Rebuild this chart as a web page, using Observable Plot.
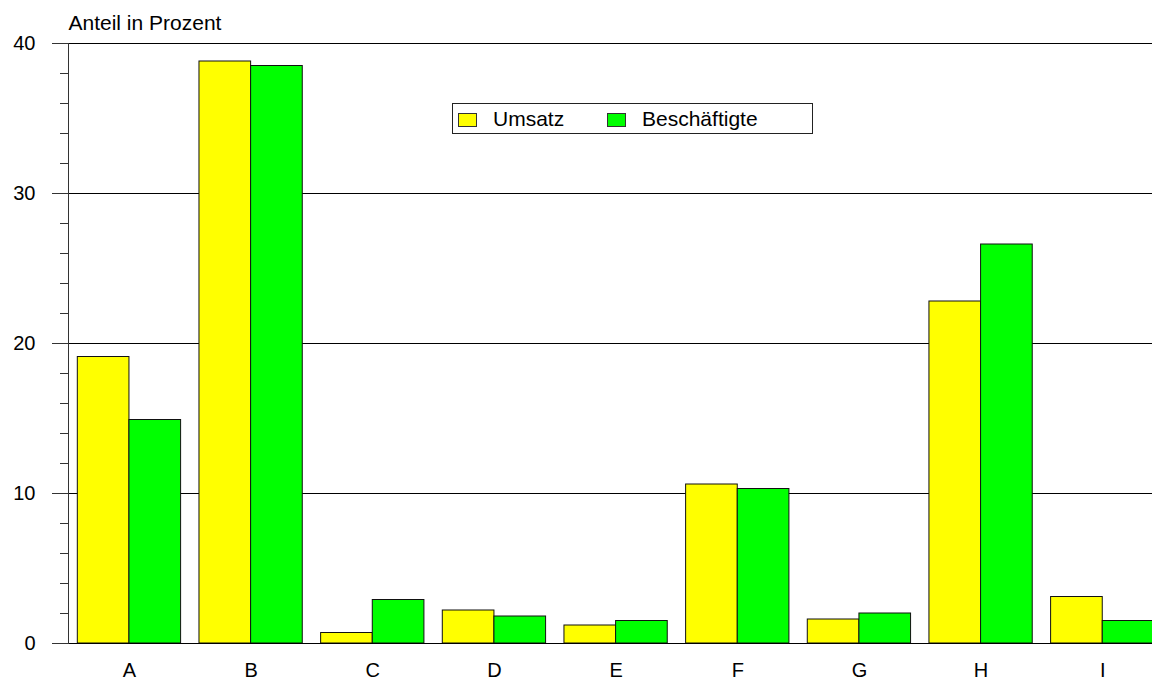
<!DOCTYPE html>
<html>
<head>
<meta charset="utf-8">
<script src="https://cdn.jsdelivr.net/npm/d3@7"></script>
<script src="https://cdn.jsdelivr.net/npm/@observablehq/plot@0.6"></script>
<style>
  html, body { margin: 0; padding: 0; background: white; overflow: hidden; width: 1152px; height: 681px; }
  #wrap { position: relative; width: 1152px; height: 681px; overflow: hidden; font-family: "Liberation Sans", Arial, sans-serif; }
  #legend { position: absolute; left: 452px; top: 103px; width: 361px; height: 31px; border: 1px solid #222; background: white; box-sizing: border-box; font-size: 21px; color: #000; }
  .item { position: absolute; top: 0; height: 29px; line-height: 29px; }
  .sw { position: absolute; top: 9px; width: 17px; height: 12px; border: 1px solid #333; }
  .lab { position: absolute; top: 0; white-space: nowrap; }
</style>
</head>
<body>
<div id="wrap">
  <div id="chart"></div>
  <div id="legend"></div>
</div>
<script>
const categories = ["A", "B", "C", "D", "E", "F", "G", "H", "I"];
const umsatz = [19.1, 38.8, 0.7, 2.2, 1.2, 10.6, 1.6, 22.8, 3.1];
const beschaeftigte = [14.9, 38.5, 2.9, 1.8, 1.5, 10.3, 2.0, 26.6, 1.5];
const seriesNames = ["Umsatz", "Beschäftigte"];
const seriesColors = ["#ffff00", "#00ff00"];
const majorTicks = [0, 10, 20, 30, 40];
const minorTicks = [2, 4, 6, 8, 12, 14, 16, 18, 22, 24, 26, 28, 32, 34, 36, 38];
const yTitle = "Anteil in Prozent";

const rows = categories.map((c, i) => ({cat: c, umsatz: umsatz[i], besch: beschaeftigte[i]}));

const marginLeft = 68, marginTop = 43, marginBottom = 38;
const width = 1152, height = 681;
const pIn = 0.151, pOut = 0.0765;
const xRange = [marginLeft, 1163.2];
const step = (xRange[1] - xRange[0]) / (categories.length - pIn + 2 * pOut);
const bw = step * (1 - pIn);

const chart = Plot.plot({
  width, height,
  marginLeft, marginTop, marginBottom, marginRight: 0,
  style: {fontFamily: "'Liberation Sans', Arial, sans-serif", fontSize: "20px", overflow: "hidden", color: "#000", background: "white"},
  x: {domain: categories, range: xRange, paddingInner: pIn, paddingOuter: pOut, round: false},
  y: {domain: [0, 40], range: [height - marginBottom, marginTop]},
  marks: [
    Plot.ruleY(majorTicks, {stroke: "#000", strokeWidth: 1}),
    Plot.barY(rows, {x: "cat", y: "umsatz", fill: seriesColors[0], stroke: "#111", strokeWidth: 1, insetRight: bw / 2}),
    Plot.barY(rows, {x: "cat", y: "besch", fill: seriesColors[1], stroke: "#111", strokeWidth: 1, insetLeft: bw / 2}),
    Plot.ruleY([0], {stroke: "#000", strokeWidth: 1}),
    Plot.frame({anchor: "left", stroke: "#333"}),
    Plot.axisY({ticks: majorTicks, tickSize: 16, tickPadding: 17, tickFormat: d => String(d), stroke: "#333", strokeOpacity: 1, fontSize: 20, label: null}),
    Plot.axisY({ticks: minorTicks, tickSize: 8, text: null, stroke: "#333", strokeOpacity: 1, label: null}),
    Plot.axisX({tickSize: 0, tickPadding: 19, fontSize: 20, label: null}),
    Plot.text([yTitle], {frameAnchor: "top-left", textAnchor: "start", lineAnchor: "bottom", dy: -14, fontSize: 21, fill: "#000"})
  ]
});
document.getElementById("chart").appendChild(chart);

const legend = document.getElementById("legend");
const swX = [5, 154], labX = [40, 189];
seriesNames.forEach((name, i) => {
  const sw = document.createElement("div");
  sw.className = "sw";
  sw.style.left = swX[i] + "px";
  sw.style.background = seriesColors[i];
  legend.appendChild(sw);
  const lab = document.createElement("div");
  lab.className = "lab item";
  lab.style.left = labX[i] + "px";
  lab.textContent = name;
  legend.appendChild(lab);
});
</script>
</body>
</html>
